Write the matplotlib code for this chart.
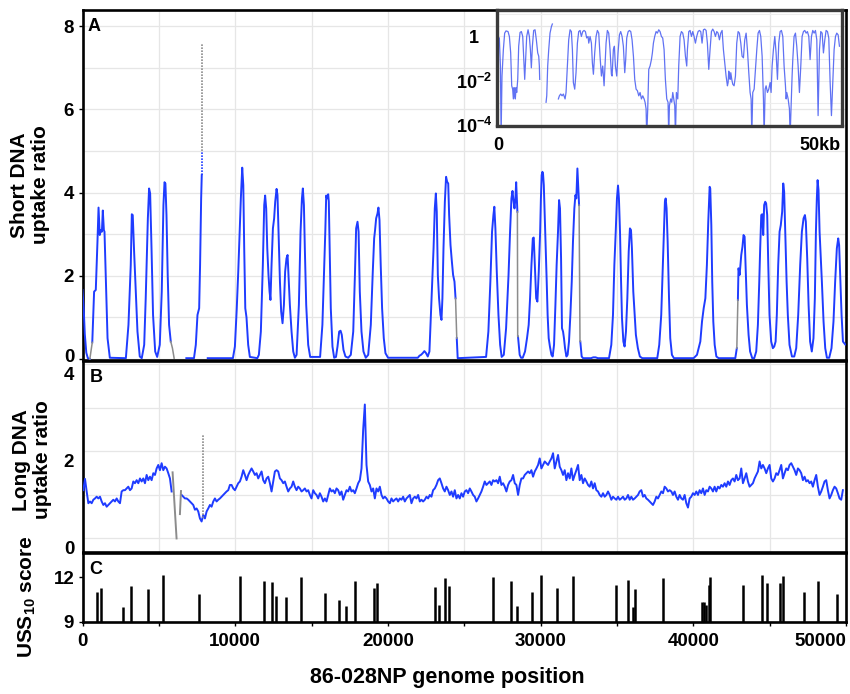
import numpy as np
import matplotlib
matplotlib.use("Agg")
import matplotlib.pyplot as plt
from matplotlib import transforms
from matplotlib.ticker import MultipleLocator, FixedLocator, NullFormatter

plt.rcParams['font.family'] = ['Liberation Sans', 'DejaVu Sans']
plt.rcParams['font.weight'] = 'bold'
plt.rcParams['mathtext.fontset'] = 'custom'
plt.rcParams['mathtext.rm'] = 'Liberation Sans:bold'
plt.rcParams['mathtext.bf'] = 'Liberation Sans:bold'
plt.rcParams['mathtext.it'] = 'Liberation Sans:bold'

BLUE = '#1f3cff'
GRAY = '#8c8c8c'
GRID = '#e6e6e6'

# ---------------- Panel A: short DNA uptake ratio (positions in kb, None = gap) ----------------
short_kb = [
    0.0, 0.08, 0.15, 0.25, 0.35, 0.48, None,
    0.64, 0.76, 0.87, 0.98, 1.05, 1.13, 1.2, 1.27, 1.33, 1.4, 1.44, 1.53, 1.64, 1.79, 2.84, 3.01, 3.16, 3.23,
    3.29, 3.38, 3.49, 3.6, 3.75, 3.88, 4.04, 4.14, 4.28, 4.36, 4.43, 4.52, 4.62, 4.76, 4.89, 5.06, 5.19, 5.3,
    5.37, 5.43, 5.5, 5.58, 5.67, 5.78, None,
    6.8, 7.3, 7.42, 7.53, 7.64, 7.7, 7.77, 7.81, None,
    8.2, 9.85, 9.98, 10.1, 10.2, 10.37, 10.46, 10.53, 10.59, 10.66, 10.74, 10.85, 10.96, 11.45, 11.55, 11.68,
    11.81, 11.9, 11.96, 12.03, 12.1, 12.18, 12.25, 12.31, 12.38, 12.47, 12.55, 12.62, 12.71, 12.77, 12.84,
    12.93, 13.01, 13.1, 13.19, 13.27, 13.36, 13.43, 13.49, 13.58, 13.69, 13.8, 13.91, 14.02, 14.17, 14.28,
    14.37, 14.43, 14.5, 14.56, 14.65, 14.78, 14.91, 15.56, 15.71, 15.81, 15.9, 15.96, 16.02, 16.09, 16.13,
    16.2, 16.26, 16.37, 16.48, 16.6, 16.7, 16.81, 16.9, 16.98, 17.09, 17.22, 17.4, 17.57, 17.73, 17.84, 17.92,
    18.01, 18.08, 18.16, 18.27, 18.4, 18.55, 18.71, 18.88, 19.01, 19.1, 19.16, 19.23, 19.32, 19.38, 19.45,
    19.53, 19.62, 19.73, 19.84, 20.01, 21.96, 22.07, 22.17, 22.28, 22.39, 22.5, 22.61, 22.72, 22.79, 22.9,
    22.99, 23.07, 23.14, 23.2, 23.27, 23.35, 23.44, 23.51, 23.57, 23.64, 23.73, 23.81, 23.88, 23.95, 24.01,
    24.1, 24.19, 24.27, 24.36, 24.43, None,
    24.51, 24.57, 26.43, 26.58, 26.71, 26.82, 26.91, 26.97, 27.04, 27.13, 27.24, 27.35, 27.45, 27.59, 27.74,
    27.9, 28.0, 28.09, 28.16, 28.22, 28.29, 28.35, 28.4, 28.44, 28.48, None,
    28.52, 28.63, 28.72, 28.83, 28.98, 29.11, 29.22, 29.31, 29.4, 29.49, 29.55, 29.62, 29.71, 29.79, 29.88,
    29.97, 30.02, 30.07, 30.12, 30.16, 30.21, 30.27, 30.33, 30.4, 30.46, 30.53, 30.61, 30.71, 30.79, 30.88,
    30.97, 31.05, 31.14, 31.21, 31.27, 31.34, 31.4, 31.47, 31.53, 31.6, 31.69, 31.77, 31.86, 31.95, 32.04,
    32.12, 32.21, 32.28, 32.34, 32.41, 32.45, 32.52, None,
    32.6, 32.69, 32.78, 33.3, 33.45, 33.6, 33.75, 34.48, 34.63, 34.74, 34.83, 34.92, 35.0, 35.07, 35.13, 35.2,
    35.27, 35.33, 35.42, 35.5, 35.59, 35.68, 35.77, 35.85, 35.92, 35.98, 36.07, 36.16, 36.24, 36.37, 36.5,
    36.66, 37.64, 37.77, 37.9, 37.99, 38.08, 38.14, 38.19, 38.25, 38.32, 38.41, 38.49, 38.6, 38.73, 40.02,
    40.24, 40.35, 40.46, 40.57, 40.68, 40.79, 40.89, 40.98, 41.07, 41.11, 41.18, 41.24, 41.31, 41.4, 41.51,
    41.66, 42.75, 42.85, None,
    42.92, 42.96, 43.0, 43.03, 43.07, 43.14, 43.22, 43.29, 43.36, 43.42, 43.51, 43.62, 43.72, 43.86, 43.99,
    44.12, 44.23, 44.32, 44.38, 44.45, 44.51, 44.58, 44.64, 44.71, 44.77, 44.84, 44.91, 44.99, 45.1, 45.21,
    45.3, 45.39, 45.47, 45.56, 45.65, 45.73, 45.82, 45.89, 45.95, 46.02, 46.11, 46.19, 46.3, 46.46, 46.61,
    46.74, 46.87, 47.0, 47.11, 47.22, 47.31, 47.37, 47.46, 47.55, 47.65, 47.76, 47.87, 47.96, 48.03, 48.09,
    48.14, 48.2, 48.27, 48.33, 48.42, 48.53, 48.64, 48.75, 48.9, 49.05, 49.18, 49.29, 49.4, 49.49, 49.55,
    49.62, 49.71, 49.8, 49.95,
]
short_ratio = [
    1.66, 1.2, 0.6, 0.15, 0.02, 0.0, None,
    0.4, 1.62, 1.66, 2.82, 3.64, 2.98, 3.1, 3.06, 3.57, 3.1, 3.06, 1.94, 0.5, 0.03, 0.02, 0.82, 2.26, 3.48,
    3.46, 2.58, 1.62, 0.66, 0.06, 0.02, 0.34, 1.46, 3.38, 4.1, 3.98, 2.66, 1.06, 0.18, 0.05, 0.34, 1.62, 3.7,
    4.25, 4.22, 3.46, 2.02, 0.82, 0.42, None,
    0.02, 0.02, 0.34, 1.06, 1.22, 2.26, 3.86, 4.42, None,
    0.02, 0.02, 0.3, 1.2, 2.1, 3.86, 4.6, 4.18, 2.66, 1.22, 1.0, 0.34, 0.05, 0.02, 0.1, 0.66,
    2.26, 3.7, 3.93, 3.62, 2.66, 2.02, 1.62, 1.42, 2.26, 3.14, 3.38, 3.78, 4.09, 3.94, 3.06,
    1.86, 1.14, 0.86, 1.3, 2.1, 2.42, 2.5, 2.02, 1.3, 0.66, 0.18, 0.03, 0.1, 1.3, 3.06,
    3.86, 4.1, 3.7, 2.66, 1.3, 0.34, 0.05, 0.05, 0.82, 2.02, 3.06, 3.93, 3.86, 3.96, 3.78,
    2.42, 1.22, 0.3, 0.03, 0.05, 0.3, 0.66, 0.68, 0.58, 0.22, 0.06, 0.03, 0.1, 0.66, 2.02, 3.14,
    3.3, 3.06, 1.62, 0.66, 0.18, 0.03, 0.1, 0.82, 2.1, 2.9, 3.1, 3.38, 3.5, 3.64, 3.34,
    2.26, 1.22, 0.5, 0.14, 0.03, 0.03, 0.08, 0.1, 0.14, 0.19, 0.14, 0.06, 0.18, 0.82, 1.86,
    2.66, 3.62, 3.98, 3.54, 2.02, 1.46, 1.06, 0.94, 1.46, 2.66, 3.78, 4.38, 4.26, 4.22, 3.46,
    2.74, 2.34, 2.02, 1.86, 1.46, None,
    0.5, 0.02, 0.05, 0.66, 1.86, 3.06, 3.46, 3.66, 3.14, 2.1, 1.06, 0.34, 0.05, 0.1, 0.74,
    2.02, 3.06, 3.86, 4.04, 3.82, 3.62, 3.86, 4.25, 3.86, 3.54, None,
    0.54, 0.1, 0.03, 0.03, 0.18, 0.5, 0.82, 1.46, 2.26, 2.9, 2.92, 2.26, 1.46, 1.38, 2.1,
    3.06, 3.86, 4.42, 4.5, 4.45, 4.18, 3.46, 2.66, 1.86, 1.06, 0.5, 0.3, 0.1, 0.06, 0.34,
    1.3, 2.26, 3.06, 3.82, 3.62, 2.42, 0.74, 0.66, 0.5, 0.26, 0.06, 0.1, 0.42, 1.06, 1.86,
    2.82, 3.62, 3.94, 3.86, 4.58, 4.26, 3.7, None,
    0.42, 0.06, 0.02, 0.02, 0.04, 0.04, 0.02, 0.02, 0.34, 1.06, 2.26, 3.06, 3.86, 4.17, 3.86, 3.06,
    1.86, 0.98, 0.42, 0.3, 0.66, 1.46, 2.58, 3.14, 3.1, 2.66, 1.62, 1.06, 0.58, 0.26, 0.06,
    0.02, 0.02, 0.34, 1.06, 2.1, 3.06, 3.78, 3.86, 3.62, 2.82, 1.46, 0.5, 0.1, 0.02, 0.02,
    0.1, 0.26, 0.42, 0.9, 1.22, 1.46, 2.26, 3.3, 4.14, 4.1, 3.22, 1.86, 0.9, 0.34, 0.06,
    0.02, 0.02, 0.26, None,
    1.42, 2.18, 2.1, 2.02, 2.18, 2.5, 2.7, 2.98, 2.94, 2.26, 1.3, 0.58, 0.18, 0.02, 0.02,
    0.18, 0.82, 1.86, 2.66, 3.46, 3.48, 2.98, 3.7, 3.78, 3.74, 3.46, 2.26, 1.06, 0.42, 0.26,
    0.3, 0.42, 1.06, 2.26, 3.06, 3.22, 3.54, 4.22, 4.02, 3.06, 1.86, 1.06, 0.34, 0.06, 0.06,
    0.26, 1.06, 2.26, 3.06, 3.38, 3.46, 3.3, 2.42, 1.3, 0.42, 0.18, 0.5, 1.46, 3.06, 3.86,
    4.3, 4.06, 3.06, 2.58, 1.86, 0.9, 0.26, 0.03, 0.03, 0.26, 0.9, 1.86, 2.66, 2.9, 2.74,
    2.02, 1.06, 0.42, 0.35,
]
# low-coverage stretches drawn in gray
short_gray_kb = [[0.48, 0.64], [5.78, 5.89, 6.0], [24.43, 24.47, 24.51],
                 [28.48, 28.5, 28.52], [32.52, 32.58, 32.6], [42.85, 42.92]]
short_gray_ratio = [[0.0, 0.4], [0.42, 0.26, 0.02], [1.46, 0.98, 0.5],
                    [3.54, 0.54, 0.54], [3.7, 0.42, 0.42], [0.26, 1.42]]
# single-position spike near 7.8 kb
spike_kb = 7.81
spike_blue_range = (4.42, 5.0)
spike_gray_range = (5.0, 7.6)

# ---------------- Inset: same profile on a log scale (kb, log10 ratio; None = gap) ----------------
inset_kb = [
    0.19, 0.35, 0.45, 0.58, 0.78, 0.97, 1.17, 1.46, 1.66, 1.85, 2.0, 2.14, 2.24, 2.34, 2.44, 2.53, 2.63, 2.73,
    2.88, 3.02, 3.22, 3.41, 3.61, 3.8, 3.9, 4.04, 4.19, 4.39, 4.58, 4.73, 4.87, 5.02, 5.21, 5.41, 5.6, 5.8,
    5.95, 6.04, 6.09, None,
    7.02, 7.12, 7.26, 7.41, 7.6, 7.8, 7.94, None,
    8.82, 8.97, 9.16, 9.36, 9.55, 9.8, 9.94, 10.14, 10.33, 10.53, 10.72, 10.87, 11.01, 11.21, 11.4, 11.6,
    11.79, 11.99, 12.18, 12.38, 12.57, 12.77, 12.96, 13.16, 13.26, 13.45, 13.65, 13.79, 13.94, 14.13, 14.33,
    14.52, 14.72, 14.91, 15.11, 15.3, 15.5, 15.64, 15.79, 15.98, 16.18, 16.37, 16.57, 16.67, 16.86, 17.01,
    17.15, 17.35, 17.54, 17.74, 17.93, 18.13, 18.32, 18.52, 18.66, 18.81, 19.01, 19.2, 19.4, 19.59, 19.79,
    19.98, 20.18, 20.37, 20.57, 20.76, 20.96, 21.15, 21.35, 21.49, 21.64, 21.73, 21.88, 22.03, 22.22, 22.42,
    22.56, 22.71, 22.9, 23.1, 23.29, 23.49, 23.68, 23.88, 24.07, 24.27, 24.46, 24.66, 24.85, 24.95, 25.05,
    25.24, 25.39, 25.54, 25.68, 25.83, 25.93, 26.07, 26.27, 26.41, 26.61, 26.8, 27.0, 27.19, 27.39, 27.58,
    27.68, 27.88, 28.07, 28.27, 28.46, 28.65, 28.85, 29.04, 29.24, 29.43, 29.63, 29.82, 30.02, 30.21, 30.41,
    30.6, 30.8, 30.99, 31.19, 31.38, 31.58, 31.77, 31.97, 32.16, 32.36, 32.55, 32.75, 32.94, 33.14, 33.33,
    33.53, 33.63, 33.72, 33.82, 33.92, 34.02, 34.16, 34.31, 34.5, 34.7, 34.89, 35.09, 35.28, 35.48, 35.67,
    35.87, 36.06, 36.26, 36.45, 36.65, 36.84, 36.99, 37.09, 37.23, 37.43, 37.62, 37.82, 38.01, 38.21, 38.4,
    38.6, 38.79, 38.89, 39.04, 39.18, 39.38, 39.57, 39.77, 39.91, 40.06, 40.25, 40.45, 40.64, 40.84, 41.03,
    41.23, 41.42, 41.62, 41.81, 42.01, 42.11, 42.2, 42.4, 42.59, 42.69, 42.88, 42.98, 43.08, 43.27, 43.47,
    43.66, 43.86, 44.05, 44.25, 44.44, 44.64, 44.83, 45.03, 45.22, 45.42, 45.61, 45.81, 46.0, 46.2, 46.39,
    46.59, 46.78, 46.98, 47.17, 47.37, 47.56, 47.76, 47.95, 48.15, 48.34, 48.54, 48.73, 48.93, 49.12, 49.32,
    49.51, 49.71, 49.9,
]
inset_log10 = [
    -0.07, -1.33, -4.5, -1.78, -0.59, 0.15, 0.25, 0.22, 0.0, -0.74, -2.22, -2.37, -2.81, -2.3, -2.67, -2.81,
    -2.3, -2.52, -1.93, -0.44, 0.18, 0.22, 0.0, -1.33, -1.93, -1.04, 0.0, 0.3, 0.0, -0.59, -1.41, -0.44,
    0.27, 0.3, -0.15, -0.74, -0.89, -1.33, -1.93, None,
    -2.96, -2.67, -1.33, -0.59, 0.15, 0.44, 0.56, None,
    -2.81, -2.67, -2.59, -2.67, -2.59, -2.81, -2.52, -1.33, -0.15, 0.3, 0.22, -0.59, -2.07, -2.37, -1.63,
    -0.3, 0.22, 0.27, 0.0, 0.22, 0.27, 0.22, -0.07, 0.0, -0.3, 0.0, -0.3, -1.19, -1.7, -0.74, 0.0,
    0.27, 0.15, -0.89, -1.78, -1.33, -2.22, -1.33, -0.3, 0.27, 0.15, -0.59, -1.7, -1.78, -0.59, -0.44,
    -1.33, -1.78, -0.74, 0.07, 0.22, 0.0, -0.44, -1.63, -1.04, -0.07, 0.21, 0.27, 0.22, -0.15, -0.89,
    -1.93, -2.37, -2.44, -2.67, -2.52, -2.81, -2.67, -2.81, -2.96, -3.26, -4.5, -3.26, -1.48, -1.33, -1.04,
    -0.74, -0.3, 0.0, 0.22, 0.15, 0.3, 0.22, 0.0, -0.07, -0.59, -1.93, -2.81, -2.96, -4.5, -3.11,
    -2.81, -2.96, -2.52, -2.81, -3.11, -4.5, -2.52, -2.81, -1.33, 0.0, 0.22, 0.15, -0.15, -0.89, -1.33,
    -0.59, 0.22, 0.27, 0.0, 0.22, 0.0, -0.3, 0.0, 0.22, 0.27, 0.22, -0.3, 0.3, 0.33, 0.27,
    -0.3, -1.48, -0.59, 0.22, 0.33, 0.22, 0.0, 0.22, 0.15, -0.15, 0.15, 0.27, -0.59, -1.19, -1.78,
    -2.22, -2.07, -1.56, -1.7, -1.93, -1.63, -1.93, -2.15, -2.22, -1.78, -0.3, 0.22, 0.15, -0.3, -0.89,
    -0.96, -0.15, 0.15, -0.59, -1.63, -2.52, -2.81, -4.5, -2.52, -2.37, -1.48, -0.59, 0.15, 0.27, 0.0,
    -0.89, -2.81, -4.5, -2.37, -2.22, -2.52, -2.37, -2.07, -2.52, -1.33, -0.59, 0.0, -0.74, -1.93, -0.3,
    0.22, 0.27, 0.0, -1.33, -2.22, -2.81, -2.52, -2.81, -3.26, -4.5, -2.67, -1.78, -1.04, 0.0, 0.15,
    -0.44, -1.33, -2.52, -1.33, 0.0, 0.22, 0.27, 0.15, 0.22, 0.0, -1.04, 0.0, 0.27, 0.15, 0.27,
    -0.15, -3.56, -0.59, 0.22, 0.15, -0.74, -0.15, 0.27, 0.22, -0.07, -2.07, -3.56, -2.07, -0.59, 0.0,
    0.15, 0.07, -0.44,
]

# ---------------- Panel B: long DNA uptake ratio on fixed windows ----------------
long_window_start_bp = 55
long_window_step_bp = 109.08
long_ratio = [
    1.11, 1.37, 1.08, 0.81, 0.85, 0.81, 0.89, 0.92, 0.96, 0.92,
    0.96, 0.85, 0.77, 0.81, 0.73, 0.77, 0.81, 0.85, 0.89, 0.85,
    0.92, 0.85, 0.81, 1.08, 1.11, 1.11, 1.15, 1.19, 1.11, 1.15,
    1.31, 1.27, 1.34, 1.27, 1.38, 1.31, 1.38, 1.27, 1.46, 1.34,
    1.42, 1.34, 1.50, 1.46, 1.61, 1.69, 1.57, 1.73, 1.57, 1.65,
    1.61, 1.50, 1.38, 1.08, None, None, None, None, None, 1.00,
    0.96, 0.92, 0.92, 0.89, 0.85, 0.81, 0.77, 0.66, 0.69, 0.62,
    0.46, 0.39, 0.54, 0.46, 0.62, 0.69, 0.77, 0.73, 0.85, 0.92,
    0.85, 0.89, 0.92, 0.96, 1.00, 1.04, 1.08, 1.11, 1.23, 1.23,
    1.15, 1.11, 1.19, 1.27, 1.31, 1.42, 1.57, 1.46, 1.34, 1.46,
    1.54, 1.61, 1.54, 1.46, 1.50, 1.38, 1.46, 1.54, 1.34, 1.27,
    1.38, 1.42, 1.27, 1.08, 1.31, 1.54, 1.57, 1.54, 1.38, 1.34,
    1.27, 1.31, 1.19, 1.08, 1.15, 1.19, 1.31, 1.19, 1.11, 1.19,
    1.15, 1.08, 1.11, 1.15, 1.08, 1.11, 1.00, 0.92, 1.11, 1.04,
    1.00, 0.92, 1.04, 0.96, 0.85, 0.92, 0.85, 1.00, 1.15, 1.08,
    1.11, 1.04, 1.15, 1.11, 1.00, 1.08, 0.89, 1.00, 1.11, 1.08,
    1.19, 1.08, 1.11, 1.04, 1.15, 1.27, 1.34, 1.61, 2.50, 3.08,
    1.69, 1.31, 1.23, 1.08, 1.15, 0.92, 1.15, 1.08, 1.19, 1.00,
    0.92, 0.96, 0.92, 0.85, 0.81, 0.92, 0.85, 0.89, 0.92, 0.85,
    0.92, 0.89, 0.96, 0.85, 0.92, 0.96, 1.00, 0.81, 0.92, 0.96,
    0.92, 1.00, 0.85, 0.89, 0.85, 0.89, 0.96, 0.92, 1.00, 0.96,
    1.11, 1.15, 1.23, 1.34,
    1.38, 1.27, 1.15, 1.08, 1.19, 1.11, 1.00, 1.08, 0.96, 1.11,
    0.92, 1.00, 0.92, 1.04, 0.96, 1.08, 1.11, 1.04, 1.15, 1.08,
    1.00, 0.96, 0.85, 0.92, 1.00, 1.08, 1.19, 1.31, 1.23, 1.27,
    1.31, 1.23, 1.34, 1.31, 1.34, 1.27, 1.42, 1.23, 1.27, 1.19,
    1.08, 1.23, 1.31, 1.34, 1.46, 1.27, 1.23, 1.00, 1.23, 1.38,
    1.38, 1.46, 1.50, 1.54, 1.50, 1.57, 1.42, 1.54, 1.61, 1.69,
    1.84, 1.61, 1.69, 1.77, 1.73, 1.69, 1.77, 1.84, 1.96, 1.61,
    1.77, 1.92, 1.65, 1.57, 1.46, 1.57, 1.34, 1.50, 1.38, 1.61,
    1.34, 1.46, 1.57, 1.69, 1.34, 1.46, 1.27, 1.38, 1.31, 1.23,
    1.19, 1.31, 1.15, 1.27, 1.11, 1.08, 1.00, 0.96, 1.04, 0.96,
    1.00, 1.08, 1.00, 0.89, 0.96, 0.92, 0.89, 0.96, 0.89, 0.92,
    0.96, 0.89, 0.92, 1.00, 0.89, 0.96, 0.89, 0.92, 0.96, 1.00,
    1.08, 1.11, 0.96, 1.00, 0.92, 0.89, 0.85, 0.81, 0.77, 0.85,
    0.96, 0.92, 1.00, 1.08, 1.04, 1.19, 1.15, 1.08, 1.11, 1.08,
    1.00, 1.08, 0.96, 0.89, 1.00, 0.92, 0.89, 1.00, 0.81, 0.71,
    0.92, 0.96, 1.04, 1.00, 1.08, 1.00, 1.11, 1.04, 1.15, 1.00,
    1.11, 1.08, 1.19, 1.15, 1.08, 1.19, 1.08, 1.19, 1.15, 1.23,
    1.19, 1.27, 1.19, 1.31, 1.23, 1.34, 1.38, 1.31, 1.46, 1.34,
    1.38, 1.61, 1.27, 1.38, 1.50, 1.31, 1.19, 1.23, 1.27, 1.38,
    1.46, 1.54, 1.77, 1.61, 1.69, 1.61, 1.50, 1.61, 1.69, 1.38,
    1.31, 1.38, 1.50, 1.46, 1.57, 1.69, 1.38, 1.50, 1.61, 1.57,
    1.69, 1.73, 1.65, 1.57, 1.46, 1.61, 1.57, 1.50, 1.34, 1.42,
    1.31, 1.34, 1.27, 1.31, 1.19, 1.34, 1.46, 1.19, 1.00, 1.08,
    1.19, 1.31, 1.34, 1.11, 0.92, 1.00, 1.11, 1.19, 1.15, 1.04,
    0.92, 0.89, 1.11,
]
long_gray_kb = [[5.9, 6.16], [6.38, 6.45]]
long_gray_ratio = [[1.52, 0.0], [0.56, 1.09]]
long_spike_kb = 7.91
long_spike_range = (0.46, 2.38)

# ---------------- Panel C: USS10 sites ----------------
uss_position = [962, 1222, 2660, 3185, 4280, 5260, 7660, 10340, 11870, 12410, 12700, 13330, 14330,
                15860, 16780, 17230, 17870, 19110, 19280, 23060, 23320, 23710, 23970, 26880, 28050,
                28470, 29430, 30040, 31090, 32110, 34930, 35750, 36080, 36190, 38000, 40550, 40680,
                40820, 41010, 41100, 43240, 44480, 44850, 45680, 45900, 47270, 48150, 49390]
uss_score = [11.0, 11.25, 10.0, 11.4, 11.2, 12.13, 10.9, 12.07, 11.73, 11.7, 10.75, 10.67, 12.0,
             10.93, 10.5, 10.07, 11.73, 11.25, 11.6, 11.35, 10.1, 11.93, 11.4, 12.0, 11.77,
             10.03, 10.98, 12.18, 11.25, 12.07, 11.5, 11.83, 10.0, 11.2, 11.93, 10.35, 10.3,
             10.1, 11.5, 12.0, 11.5, 12.15, 11.6, 11.6, 12.07, 10.98, 11.73, 10.9]

x_ticks = [0, 10000, 20000, 30000, 40000, 50000]


def to_bp(kb_list):
    return np.array(kb_list, dtype=float) * 1000.0


W, H = 850, 694
fig = plt.figure(figsize=(W / 100, H / 100), dpi=100)


def axes_px(left, top, right, bottom):
    return fig.add_axes([left / W, 1 - bottom / H, (right - left) / W, (bottom - top) / H])


def shift_label(label, dy_px):
    label.set_transform(label.get_transform()
                        + transforms.ScaledTranslation(0, dy_px / 100, fig.dpi_scale_trans))


axA = axes_px(82.5, 10, 846, 360)
axB = axes_px(82.5, 361, 846, 551.5)
axC = axes_px(82.5, 552.5, 846, 622)

for ax in (axA, axB, axC):
    ax.set_xlim(0, 50000)
    ax.set_axisbelow(True)
    for sp in ax.spines.values():
        sp.set_linewidth(1.9)
        sp.set_color('black')
    ax.xaxis.set_major_locator(FixedLocator(x_ticks))
    ax.xaxis.set_minor_locator(MultipleLocator(5000))
    ax.tick_params(which='major', direction='out', length=3, width=1, labelsize=13.5, pad=3)
    ax.tick_params(which='minor', direction='out', length=3, width=1)

for ax in (axA, axB):
    ax.grid(True, which='both', color=GRID, lw=0.9)
    ax.tick_params(axis='x', which='both', length=0, labelbottom=False)
    ax.tick_params(axis='y', which='minor', length=0)

# ---- Panel A
axA.set_ylim(-0.024, 8.39)
axA.set_yticks([0, 2, 4, 6, 8])
axA.yaxis.set_minor_locator(MultipleLocator(1))
axA.plot(to_bp(short_kb), np.array(short_ratio, dtype=float), color=BLUE, lw=1.4,
         solid_joinstyle='round', zorder=3)
for gx, gy in zip(short_gray_kb, short_gray_ratio):
    axA.plot(to_bp(gx), gy, color=GRAY, lw=1.1, zorder=3)
axA.vlines(spike_kb * 1000, *spike_blue_range, colors=BLUE, lw=1.2, linestyles=(0, (1, 0.8)), zorder=3)
axA.vlines(spike_kb * 1000, *spike_gray_range, colors=GRAY, lw=1.2, linestyles=(0, (1, 0.8)), zorder=3)
shift_label(axA.get_yticklabels()[0], 4)

# ---- Panel B
axB.set_ylim(-0.3, 4.08)
axB.set_yticks([0, 2, 4])
axB.yaxis.set_minor_locator(MultipleLocator(1))
axB.tick_params(axis='y', which='major', length=0, pad=6)
long_pos = long_window_start_bp + long_window_step_bp * np.arange(len(long_ratio))
axB.plot(long_pos, np.array(long_ratio, dtype=float), color=BLUE, lw=1.4, zorder=3)
for gx, gy in zip(long_gray_kb, long_gray_ratio):
    axB.plot(to_bp(gx), gy, color=GRAY, lw=1.4, zorder=3)
axB.vlines(long_spike_kb * 1000, *long_spike_range, colors=GRAY, lw=1.2, linestyles=(0, (1, 0.8)), zorder=3)
# tick labels of this panel sit a little lower than their grid lines
for lab in axB.get_yticklabels():
    shift_label(lab, -9)

# ---- Panel C
axC.set_ylim(8.98, 13.68)
axC.set_yticks([9, 12])
axC.vlines(uss_position, 9, uss_score, colors='black', lw=1.8)
axC.set_xticklabels(['0', '10000', '20000', '30000', '40000', '50000'])
axC.get_xticklabels()[-1].set_horizontalalignment('right')
axC.tick_params(axis='x', which='major', pad=5)
axC.tick_params(axis='x', which='minor', labelbottom=False)

# ---- Inset (log scale)
axI = axes_px(497, 10, 841.5, 125.5)
axI.set_facecolor('none')
axI.set_yscale('log')
axI.set_ylim(10 ** -4.005, 10 ** 1.19)
axI.set_xlim(-0.15, 50.2)
inset_vals = np.array([np.nan if v is None else 10.0 ** v for v in inset_log10])
axI.plot(np.array(inset_kb, dtype=float), inset_vals, color='#4f63f2', lw=0.9, alpha=0.9)
axI.yaxis.set_major_locator(FixedLocator([1e-4, 1e-2, 1]))
axI.yaxis.set_minor_locator(FixedLocator([1e-3, 1e-1, 10]))
axI.yaxis.set_minor_formatter(NullFormatter())
axI.set_yticklabels([r'$\mathbf{10^{-4}}$', r'$\mathbf{10^{-2}}$', '1'])
axI.grid(True, axis='y', which='both', color='#ededed', lw=0.8)
axI.set_xticks([0, 50])
axI.set_xticklabels(['0', '50kb'])
axI.get_xticklabels()[-1].set_horizontalalignment('right')
axI.tick_params(axis='y', which='both', length=0, labelsize=13, pad=16.5)
for lab in axI.get_yticklabels():
    lab.set_horizontalalignment('center')
axI.tick_params(axis='x', length=0, labelsize=13, pad=8)
for sp in axI.spines.values():
    sp.set_linewidth(2.4)
    sp.set_color('#3a3a3a')

# ---- Panel letters and axis titles
for letter, (px, py) in zip('ABC', [(94.5, 26.5), (96, 378), (96, 569)]):
    fig.text(px / W, 1 - py / H, letter, ha='center', va='center', fontsize=13, fontweight='bold')

fig.text(30 / W, 1 - 185 / H, 'Short DNA\nuptake ratio', rotation=90, ha='center', va='center',
         fontsize=15, fontweight='bold', linespacing=1.15)
fig.text(32 / W, 1 - 460 / H, 'Long DNA\nuptake ratio', rotation=90, ha='center', va='center',
         fontsize=15, fontweight='bold', linespacing=1.15)
fig.text(27 / W, 1 - 597 / H, r'USS$_{\mathbf{10}}$ score', rotation=90, ha='center', va='center',
         fontsize=15, fontweight='bold')
fig.text(447 / W, 1 - 678 / H, '86-028NP genome position', ha='center', va='center',
         fontsize=15.5, fontweight='bold')

fig.savefig('out.png', dpi=100)
